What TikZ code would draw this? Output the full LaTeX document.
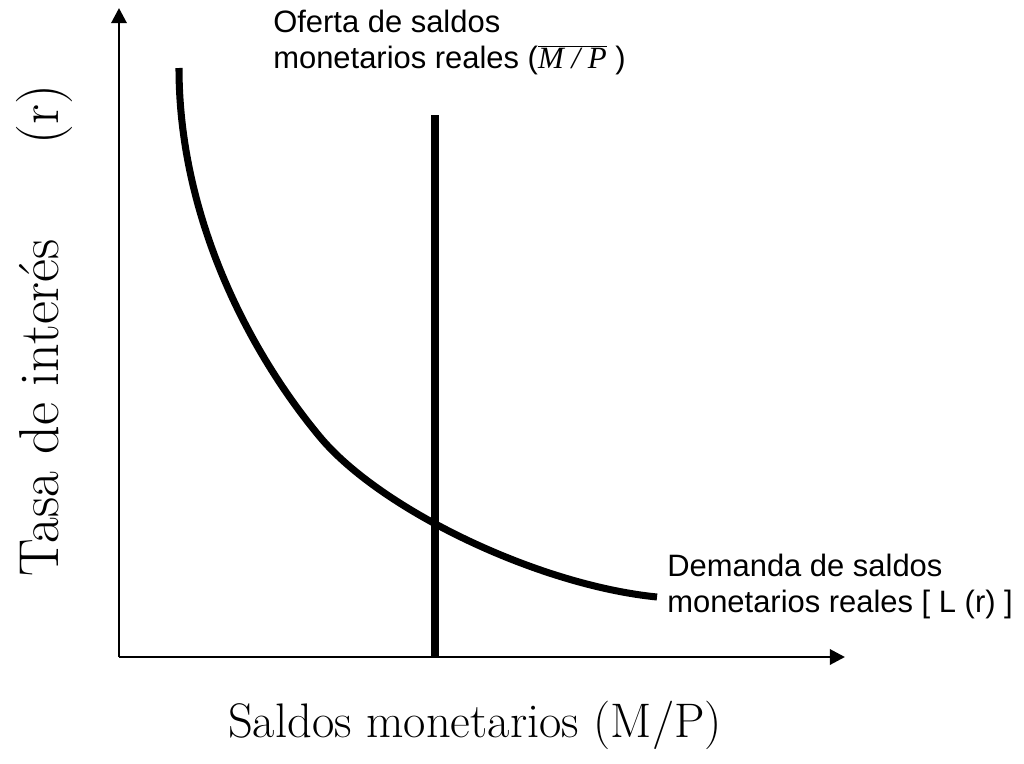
\documentclass[tikz,border=0pt]{standalone}
\usepackage{fontspec}
\usetikzlibrary{arrows.meta}
\newfontfamily\arialfont{Liberation Sans}
\newfontfamily\timesfont{Liberation Serif}
\tikzstyle{eje}=[draw,line width=2.1pt,-{Triangle[length=0.38cm,width=0.38cm]}]
\tikzstyle{curva}=[draw,line width=5pt]
\tikzstyle{etiqueta}=[inner sep=0pt,align=left,font=\arialfont\fontsize{22}{25.5}\selectfont]
\tikzstyle{titulo}=[inner sep=0pt,font=\fontsize{34.5}{40}\selectfont]

\begin{document}
\begin{tikzpicture}[x=0.025cm,y=-0.025cm]
    \useasboundingbox (0,0) rectangle (1024,763);

    % ejes
    \coordinate (o) at (119,657);
    \coordinate (ytop) at (119,8);
    \coordinate (xend) at (845,657);
    \path[eje] (o) -- (ytop);
    \path[eje] (o) -- (xend);

    % oferta (vertical)
    \coordinate (otop) at (435,115);
    \coordinate (obase) at (435,657);
    \path[curva] (otop) -- (obase);

    % demanda L(r)
    \coordinate (dini) at (179,68);
    \coordinate (dmed) at (320,437);
    \coordinate (dfin) at (657,597);
    \path[curva] (dini) .. controls (179,218) and (250,353) .. (dmed)
                        .. controls (380,509) and (537,585) .. (dfin);

    % textos
    \node[etiqueta,anchor=north west] (oferta) at (273,10) {Oferta de saldos\\monetarios reales ($\overline{\hbox{\timesfont\itshape M\ /\ P}}$~)};
    \node[etiqueta,anchor=north west] (demanda) at (667,554) {Demanda de saldos\\monetarios reales [ L (r) ]};
    \node[titulo,font=\fontsize{40}{46}\selectfont,rotate=90,anchor=base west] (ylab) at (58,577) {\makebox[12.3cm][s]{Tasa de inter\'es\hfill(r)}};
    \node[titulo,anchor=base] (xlab) at (475,737) {Saldos monetarios (M/P)};
\end{tikzpicture}
\end{document}
